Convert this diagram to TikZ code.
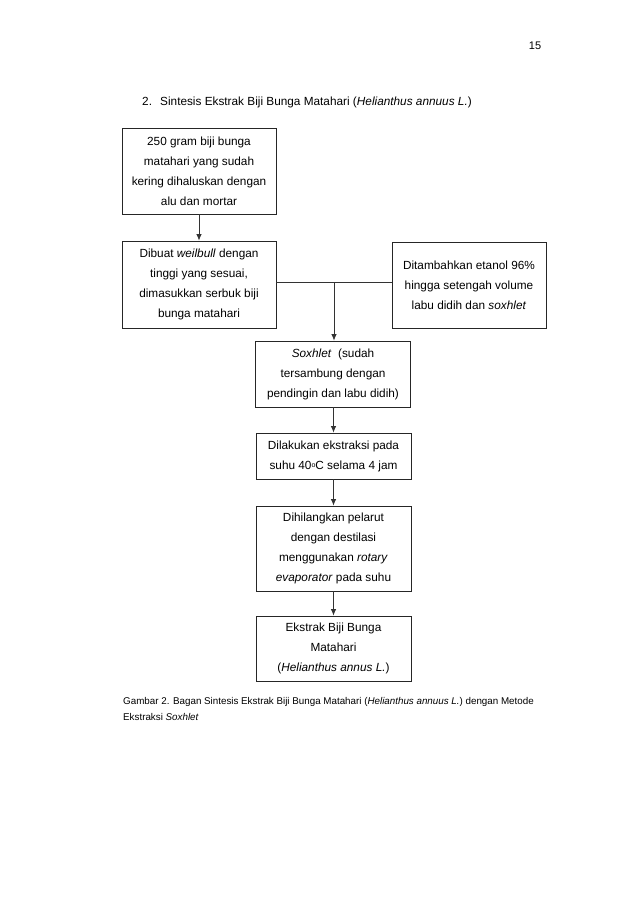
\documentclass[tikz,border=0pt]{standalone}
\usepackage{fontspec}
\setmainfont{Liberation Sans}
\usetikzlibrary{arrows.meta}
\begin{document}
\begin{tikzpicture}[x=1pt,y=1pt,
  stepbox/.style={draw=black!85, line width=0.8pt, align=center, inner sep=2pt,
    font=\fontsize{11.8}{20}\selectfont},
  conn/.style={draw=black!80, line width=0.8pt},
  arr/.style={conn, -{Latex[length=6.5pt,width=5.5pt]}},
  plain/.style={inner sep=0pt, anchor=base west}]
\useasboundingbox[fill=white] (0,0) rectangle (638,-903);
\node[inner sep=0pt, font=\fontsize{11}{12}\selectfont] (pg) at (535,-46) {15};
\node[plain, font=\fontsize{11.8}{14}\selectfont] (tnum) at (142,-105) {2.};
\node[plain, font=\fontsize{11.8}{14}\selectfont] (title) at (160,-105) {Sintesis Ekstrak Biji Bunga Matahari (\textit{Helianthus annuus L.})};
\node[stepbox, minimum width=154, minimum height=86] (b1) at (199,-171)
  {250 gram biji bunga\\matahari yang sudah\\kering dihaluskan dengan\\alu dan mortar};
\node[stepbox, minimum width=154, minimum height=87] (b2) at (199,-284.5)
  {Dibuat \textit{weilbull} dengan\\tinggi yang sesuai,\\dimasukkan serbuk biji\\bunga matahari};
\node[stepbox, minimum width=154, minimum height=86] (b3) at (469,-285)
  {Ditambahkan etanol 96\%\\hingga setengah volume\\labu didih dan \textit{soxhlet}};
\node[stepbox, minimum width=155, minimum height=66] (b4) at (333,-374)
  {\textit{Soxhlet}\ \ (sudah\\tersambung dengan\\pendingin dan labu didih)};
\node[stepbox, minimum width=155, minimum height=46] (b5) at (333.5,-456)
  {Dilakukan ekstraksi pada\\suhu 40{\fontsize{7}{8}\selectfont\raisebox{0.55ex}{o}}C selama 4 jam};
\node[stepbox, minimum width=155, minimum height=85] (b6) at (333.5,-548.5)
  {Dihilangkan pelarut\\dengan destilasi\\menggunakan \textit{rotary}\\\textit{evaporator} pada suhu};
\node[stepbox, minimum width=155, minimum height=65] (b7) at (333.5,-648.5)
  {Ekstrak Biji Bunga\\Matahari\\(\textit{Helianthus annus L.})};
\node[inner sep=0pt, font=\fontsize{9.8}{16}\selectfont, align=left, anchor=north west] (cap) at (123,-697)
  {Gambar 2. Bagan Sintesis Ekstrak Biji Bunga Matahari (\textit{Helianthus annuus L.}) dengan Metode\\Ekstraksi \textit{Soxhlet}};
\coordinate (j) at (334,-282);
\draw[arr] (b1.south) -- (b2.north);
\draw[conn] (b2.east |- j) -- (b3.west |- j);
\draw[arr] (j) -- (j |- b4.north);
\draw[arr] (b4.south -| b5.north) -- (b5.north);
\draw[arr] (b5.south) -- (b6.north);
\draw[arr] (b6.south) -- (b7.north);
\end{tikzpicture}
\end{document}
